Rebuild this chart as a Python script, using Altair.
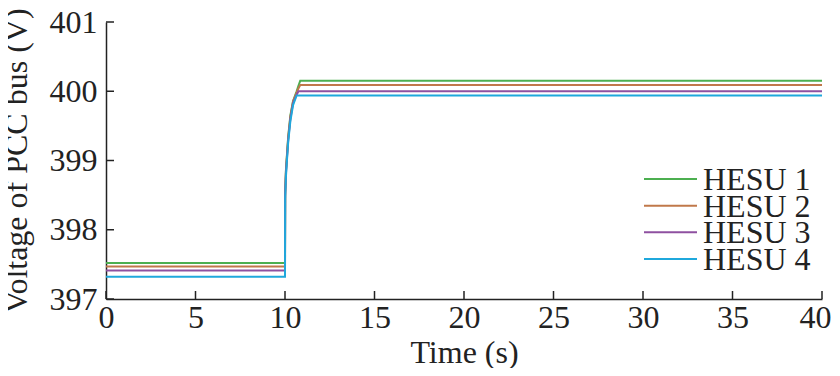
import altair as alt
import pandas as pd

time_s = [0, 10, 10.01, 10.05, 10.1, 10.18, 10.3, 10.45, 10.65, 10.75, 10.85, 40]
hesu1 = [397.52, 397.52, 398.55, 398.85, 399.05, 399.35, 399.65, 399.86, 400.0, 400.08, 400.15, 400.15]
hesu2 = [397.47, 397.47, 398.52, 398.83, 399.03, 399.33, 399.63, 399.85, 399.98, 400.04, 400.09, 400.09]
hesu3 = [397.41, 397.41, 398.50, 398.80, 399.00, 399.30, 399.60, 399.83, 399.95, 400.0, 400.0, 400.0]
hesu4 = [397.32, 397.32, 398.45, 398.75, 398.97, 399.27, 399.57, 399.80, 399.94, 399.94, 399.94, 399.94]
series_names = ["HESU 1", "HESU 2", "HESU 3", "HESU 4"]
series_colors = ["#4caf50", "#c0784a", "#8e50a0", "#1fa8dc"]
x_ticks = [0, 5, 10, 15, 20, 25, 30, 35, 40]
y_ticks = [397, 398, 399, 400, 401]

rows = []
for name, vals in zip(series_names, [hesu1, hesu2, hesu3, hesu4]):
    for t, v in zip(time_s, vals):
        rows.append({"t": t, "v": v, "series": name})
df = pd.DataFrame(rows)
legend_df = pd.DataFrame({"series": series_names})

W, H = 716, 277
FONT = "Liberation Serif"
xs = alt.Scale(domain=[0, 40], nice=False, zero=False)
ys = alt.Scale(domain=[397, 401], nice=False, zero=False)
cs = alt.Scale(domain=series_names, range=series_colors)
ls = alt.Scale(type="point", domain=series_names, range=[157, 237], padding=0)
x_axis = alt.Axis(values=x_ticks, ticks=False, grid=False, labelPadding=3, titlePadding=4,
                  labelFlush=False,
                  labelOffset={"condition": {"test": "datum.value == 40", "value": -7}, "value": 0})
y_axis = alt.Axis(values=y_ticks, ticks=False, grid=False, labelPadding=9, titlePadding=16,
                  format="d", labelFlush=False)

lines = alt.Chart(df).mark_line(strokeWidth=2, clip=True).encode(
    x=alt.X("t:Q", scale=xs, title="Time (s)", axis=x_axis),
    y=alt.Y("v:Q", scale=ys, title="Voltage of PCC bus (V)", axis=y_axis),
    color=alt.Color("series:N", scale=cs, legend=None),
)

xt = alt.Chart(pd.DataFrame({"t": x_ticks})).mark_rule(color="#222", strokeWidth=1.5).encode(
    x=alt.X("t:Q", scale=xs, title="Time (s)", axis=x_axis),
    y=alt.value(H), y2=alt.value(H - 8),
)
yt = alt.Chart(pd.DataFrame({"v": y_ticks})).mark_rule(color="#222", strokeWidth=1.5).encode(
    y=alt.Y("v:Q", scale=ys, axis=None),
    x=alt.value(0), x2=alt.value(8),
)

leg_lines = alt.Chart(legend_df).mark_rule(strokeWidth=2).encode(
    y=alt.Y("series:N", scale=ls, axis=None),
    x=alt.value(538), x2=alt.value(591),
    color=alt.Color("series:N", scale=cs, legend=None),
)
leg_text = alt.Chart(legend_df).mark_text(
    align="left", baseline="alphabetic", dy=11, font=FONT, fontSize=32, color="#222"
).encode(
    y=alt.Y("series:N", scale=ls, axis=None),
    x=alt.value(597),
    text="series:N",
)

chart = alt.layer(lines, xt, yt, leg_lines, leg_text).resolve_scale(
    y="independent"
).properties(
    width=W, height=H,
    autosize=alt.AutoSizeParams(type="none"),
    padding={"left": 98, "top": 14, "right": 10, "bottom": 69},
).configure_view(stroke=None).configure_axis(
    labelFont=FONT, titleFont=FONT, labelFontSize=32, titleFontSize=32,
    labelColor="#222", titleColor="#222", titleFontWeight="normal",
    domainColor="#222", domainWidth=1.5,
)

chart.save("out.html", embed_options={"renderer": "svg", "actions": False})
